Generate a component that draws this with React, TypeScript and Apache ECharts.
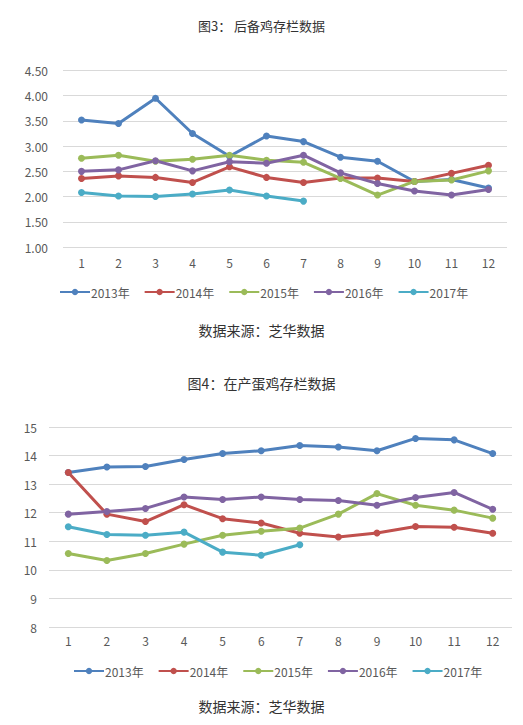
import React, { useEffect, useRef } from "react";
import * as echarts from "echarts";

const months = ["1", "2", "3", "4", "5", "6", "7", "8", "9", "10", "11", "12"];
const seriesNames = ["2013年", "2014年", "2015年", "2016年", "2017年"];
const colors = ["#4f81bd", "#c0504d", "#9bbb59", "#8064a2", "#4bacc6"];

// 图3 后备鸡存栏
const reserve2013 = [3.52, 3.45, 3.95, 3.25, 2.8, 3.2, 3.09, 2.78, 2.7, 2.3, 2.34, 2.17];
const reserve2014 = [2.36, 2.41, 2.38, 2.28, 2.59, 2.38, 2.28, 2.37, 2.37, 2.3, 2.46, 2.62];
const reserve2015 = [2.76, 2.82, 2.7, 2.74, 2.82, 2.72, 2.68, 2.36, 2.03, 2.3, 2.33, 2.51];
const reserve2016 = [2.5, 2.53, 2.71, 2.51, 2.69, 2.66, 2.82, 2.47, 2.26, 2.11, 2.03, 2.14];
const reserve2017 = [2.08, 2.01, 2.0, 2.05, 2.13, 2.01, 1.91];

// 图4 在产蛋鸡存栏
const laying2013 = [13.41, 13.6, 13.62, 13.86, 14.07, 14.17, 14.35, 14.3, 14.17, 14.6, 14.55, 14.07];
const laying2014 = [13.41, 11.95, 11.69, 12.28, 11.79, 11.64, 11.28, 11.15, 11.29, 11.52, 11.49, 11.28];
const laying2015 = [10.57, 10.33, 10.57, 10.9, 11.21, 11.35, 11.46, 11.95, 12.67, 12.26, 12.09, 11.81];
const laying2016 = [11.95, 12.04, 12.15, 12.55, 12.46, 12.55, 12.46, 12.43, 12.26, 12.53, 12.71, 12.12];
const laying2017 = [11.51, 11.24, 11.21, 11.32, 10.62, 10.51, 10.88];

const title1 = "图3： 后备鸡存栏数据";
const title2 = "图4：在产蛋鸡存栏数据";
const sourceText = "数据来源：芝华数据";

const FONT = "'Noto Sans CJK SC', 'Noto Sans', sans-serif";
const TEXT = "#595959";

export default function App() {
  const ref = useRef<HTMLDivElement>(null);
  useEffect(() => {
    if (!ref.current) return;
    const chart = echarts.init(ref.current, undefined, { renderer: "svg" });
    const reserve = [reserve2013, reserve2014, reserve2015, reserve2016, reserve2017];
    const laying = [laying2013, laying2014, laying2015, laying2016, laying2017];
    const mkSeries = (data: number[][], idx: number) =>
      data.map((d, i) => ({
        name: seriesNames[i],
        type: "line",
        xAxisIndex: idx,
        yAxisIndex: idx,
        data: d,
        symbol: "circle",
        symbolSize: 7,
        lineStyle: { width: 3, color: colors[i] },
        itemStyle: { color: colors[i] },
      }));
    const legendCommon = {
      data: seriesNames,
      itemWidth: 30,
      itemHeight: 8,
      itemGap: 14,
      textStyle: { color: TEXT, fontSize: 12, fontFamily: FONT, padding: [0, 0, 0, -4] },
    };
    const xCommon = {
      type: "category",
      data: months,
      boundaryGap: true,
      axisLine: { show: false },
      axisTick: { show: false },
      axisLabel: { color: TEXT, fontSize: 12, fontFamily: FONT },
    };
    const yCommon = {
      type: "value",
      axisLine: { show: false },
      axisTick: { show: false },
      splitLine: { lineStyle: { color: "#d9d9d9", width: 1 } },
    };
    chart.setOption({
      animation: false,
      backgroundColor: "#ffffff",
      color: colors,
      textStyle: { fontFamily: FONT },
      title: [
        { text: title1, left: "center", top: 14, textStyle: { fontSize: 13, fontWeight: "normal", color: "#333", fontFamily: FONT } },
        { text: sourceText, left: "center", top: 318, textStyle: { fontSize: 14, fontWeight: "normal", color: "#333", fontFamily: FONT } },
        { text: title2, left: "center", top: 371, textStyle: { fontSize: 14, fontWeight: "normal", color: "#333", fontFamily: FONT } },
        { text: sourceText, left: "center", top: 694, textStyle: { fontSize: 14, fontWeight: "normal", color: "#333", fontFamily: FONT } },
      ],
      legend: [
        { ...legendCommon, left: 54, top: 281 },
        { ...legendCommon, left: 68, top: 660 },
      ],
      grid: [
        { left: 63, right: 16, top: 70.5, height: 176.5 },
        { left: 49, right: 11, top: 427, height: 200 },
      ],
      xAxis: [
        { ...xCommon, gridIndex: 0, axisLabel: { ...xCommon.axisLabel, margin: 9 } },
        { ...xCommon, gridIndex: 1, axisLabel: { ...xCommon.axisLabel, margin: 7 } },
      ],
      yAxis: [
        {
          ...yCommon,
          gridIndex: 0,
          min: 1,
          max: 4.5,
          interval: 0.5,
          axisLabel: { color: TEXT, fontSize: 12, fontFamily: FONT, margin: 15, formatter: (v: number) => v.toFixed(2) },
        },
        {
          ...yCommon,
          gridIndex: 1,
          min: 8,
          max: 15,
          interval: 1,
          axisLabel: { color: TEXT, fontSize: 12, fontFamily: FONT, margin: 12 },
        },
      ],
      series: [...mkSeries(reserve, 0), ...mkSeries(laying, 1)],
    });
    return () => chart.dispose();
  }, []);
  return (
    <div
      ref={ref}
      style={{ position: "absolute", left: 0, top: 0, width: 523, height: 725, background: "#fff" }}
    />
  );
}
